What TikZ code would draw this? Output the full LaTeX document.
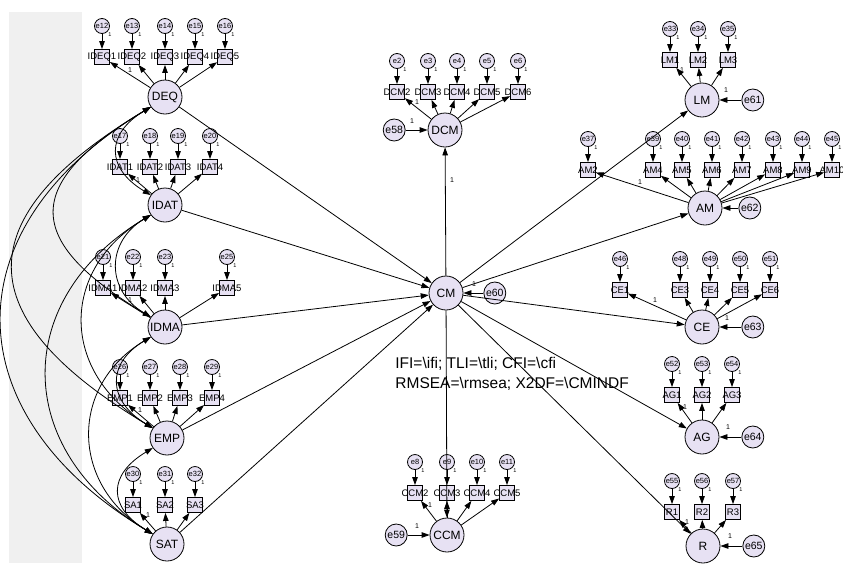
\documentclass[tikz,border=0pt]{standalone}
\usepackage{fontspec}
\setmainfont{Liberation Sans}
\usetikzlibrary{positioning,arrows.meta}
\definecolor{lav}{RGB}{231,225,243}
\definecolor{band}{RGB}{240,240,240}
\begin{document}
\begin{tikzpicture}[
  x=1pt, y=-1pt,
  lat/.style={draw, circle, fill=lav, minimum size=34pt, inner sep=0pt, font=\fontsize{12}{12}\selectfont},
  ind/.style={draw, rectangle, fill=lav, minimum size=15pt, inner sep=0pt,
    label={[font=\fontsize{9.5}{9.5}\selectfont, inner sep=0pt]center:#1}},
  err/.style={draw, circle, fill=lav, minimum size=15pt, inner sep=0pt, font=\fontsize{7.5}{7.5}\selectfont,
    label={[font=\fontsize{5.5}{6}\selectfont, inner sep=0.5pt]-45:1}},
  eerr/.style={draw, circle, fill=lav, minimum size=22pt, inner sep=0pt, font=\fontsize{10.5}{10.5}\selectfont},
  one/.style={font=\fontsize{7}{7}\selectfont, inner sep=1pt},
  arr/.style={-{Triangle[length=8pt,width=5.5pt]}, line width=0.8pt},
  cov/.style={{Triangle[length=8pt,width=5.5pt]}-{Triangle[length=8pt,width=5.5pt]}, line width=0.8pt},
  every node/.append style={line width=0.8pt},
  node distance=22pt,
]
\useasboundingbox (0,0) rectangle (843,563);
\fill[band] (9,12) rectangle (82,563);
% latent factors, left
\node[lat] (deq) at (165,97) {DEQ};
\node[lat] (idat) at (165,205) {IDAT};
\node[lat] (idma) at (165,327) {IDMA};
\node[lat] (emp) at (167,438) {EMP};
\node[lat] (sat) at (167,544) {SAT};
% centre
\node[lat] (cm) at (446,293) {CM};
\node[lat] (dcm) at (445,130) {DCM};
\node[lat] (ccm) at (447,535) {CCM};
% right
\node[lat] (lm) at (702,100) {LM};
\node[lat] (am) at (705,208) {AM};
\node[lat] (ce) at (702,327) {CE};
\node[lat] (ag) at (702,437) {AG};
\node[lat] (r) at (703,546) {R};
% residuals of the endogenous factors
\node[eerr, left=of dcm] (e58) {e58};
\node[eerr, left=of ccm] (e59) {e59};
\node[eerr, right=20pt of cm] (e60) {e60};
\node[eerr, right=of lm] (e61) {e61};
\node[eerr, right=16pt of am] (e62) {e62};
\node[eerr, right=of ce] (e63) {e63};
\node[eerr, right=of ag] (e64) {e64};
\node[eerr, right=of r] (e65) {e65};
% indicators with their errors
\foreach \f/\y/\items in {
  deq/57/{102/IDEQ1/e12,132/IDEQ2/e13,165/IDEQ3/e14,195/IDEQ4/e15,225/IDEQ5/e16},
  idat/167/{120/IDAT1/e17,150/IDAT2/e18,178/IDAT3/e19,210/IDAT4/e20},
  idma/288/{103/IDMA1/e21,133/IDMA2/e22,165/IDMA3/e23,227/IDMA5/e25},
  emp/398/{120/EMP1/e26,150/EMP2/e27,180/EMP3/e28,212/EMP4/e29},
  sat/505/{133/SA1/e30,165/SA2/e31,195/SA3/e32},
  dcm/92/{397/DCM2/e2,428/DCM3/e3,457/DCM4/e4,487/DCM5/e5,518/DCM6/e6},
  ccm/493/{415/CCM2/e8,447/CCM3/e9,477/CCM4/e10,507/CCM5/e11},
  lm/60/{670/LM1/e33,698/LM2/e34,728/LM3/e35},
  am/170/{588/AM2/e37,653/AM4/e39,682/AM5/e40,712/AM6/e41,742/AM7/e42,773/AM8/e43,802/AM9/e44,832/AM10/e45},
  ce/290/{620/CE1/e46,680/CE3/e48,710/CE4/e49,740/CE5/e50,770/CE6/e51},
  ag/395/{672/AG1/e52,702/AG2/e53,732/AG3/e54},
  r/512/{672/R1/e55,702/R2/e56,733/R3/e57}}{
  \foreach \x/\n/\e [count=\i] in \items {
    \node[ind=\n] (\f\i) at (\x,\y) {};
    \node[err] (\f-e\i) at (\x,\y-31) {\e};
    \draw[arr] (\f-e\i) -- (\f\i);
    \draw[arr] (\f) -- (\f\i);
  }
}
% structural paths
\foreach \s in {deq,idat,idma,emp,sat} \draw[arr] (\s) -- (cm);
\foreach \t in {dcm,ccm,lm,am,ce,ag,r} \draw[arr] (cm) -- (\t);
\draw[arr] (e58) -- (dcm); \draw[arr] (e59) -- (ccm); \draw[arr] (e60) -- (cm);
\draw[arr] (e61) -- (lm); \draw[arr] (e62) -- (am); \draw[arr] (e63) -- (ce);
\draw[arr] (e64) -- (ag); \draw[arr] (e65) -- (r);
% covariances among the exogenous factors
\foreach \a/\b/\k in {deq/sat/200,deq/emp/185,idat/sat/140,deq/idma/128,idat/emp/92,
  idma/sat/82,deq/idat/45,idat/idma/45,idma/emp/45,emp/sat/45}
  \draw[cov] (\a.215) .. controls +(-\k,0.6*\k) and +(-\k,-0.6*\k) .. (\b.145);
% fixed weights
\foreach \p [count=\i] in {(130,70),(138,180),(130,300),(140,410),(148,515),(417,102),
  (430,505),(682,70),(640,182),(655,300),(685,407),(687,522),
  (412,121),(417,526),(474,284),(726,90),(727,318),(728,427),(730,536),(452,180)}
  \node[one] (w\i) at \p {1};
% fit indices
\node[anchor=north west, align=left, inner sep=0pt, font=\fontsize{15.5}{20}\selectfont] (fitidx) at (395,357)
  {IFI=\textbackslash ifi; TLI=\textbackslash tli; CFI=\textbackslash cfi\\RMSEA=\textbackslash rmsea; X2DF=\textbackslash CMINDF};
\end{tikzpicture}
\end{document}
